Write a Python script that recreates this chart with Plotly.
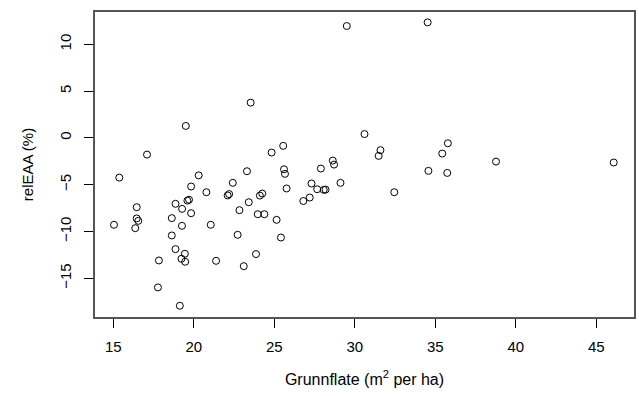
import plotly.graph_objects as go

grunnflate = [15.04, 15.37, 16.36, 16.45, 16.45, 16.55, 17.09, 17.77, 17.83, 18.63,
              18.63, 18.86, 18.86, 19.13, 19.23, 19.26, 19.27, 19.44, 19.46, 19.50,
              19.60, 19.70, 19.83, 19.83, 20.30, 20.78, 21.05, 21.38, 22.10, 22.19,
              22.42, 22.72, 22.83, 23.10, 23.30, 23.41, 23.53, 23.86, 23.97, 24.10,
              24.25, 24.38, 24.83, 25.14, 25.41, 25.55, 25.60, 25.66, 25.76, 26.80,
              27.20, 27.31, 27.66, 27.89, 28.07, 28.18, 28.63, 28.71, 29.11, 29.50,
              30.60, 31.48, 31.59, 32.45, 34.52, 34.57, 35.43, 35.74, 35.78, 38.77,
              46.08]
releaa = [-9.28, -4.24, -9.64, -7.40, -8.60, -8.86, -1.78, -15.97, -13.09, -8.57,
          -10.42, -7.04, -11.88, -17.93, -12.91, -9.39, -7.58, -12.38, -13.23, 1.28,
          -6.70, -6.60, -5.19, -8.04, -4.00, -5.80, -9.28, -13.13, -6.15, -6.00,
          -4.80, -10.35, -7.72, -13.70, -3.56, -6.87, 3.77, -12.41, -8.15, -6.16,
          -5.94, -8.15, -1.56, -8.75, -10.64, -0.85, -3.35, -3.84, -5.40, -6.74,
          -6.37, -4.87, -5.48, -3.27, -5.55, -5.52, -2.42, -2.85, -4.80, 11.95,
          0.41, -1.92, -1.31, -5.80, 12.34, -3.52, -1.67, -3.74, -0.57, -2.53,
          -2.63]

x_ticks = [15, 20, 25, 30, 35, 40, 45]
y_ticks = [-15, -10, -5, 0, 5, 10]

fig = go.Figure(go.Scatter(
    x=grunnflate, y=releaa, mode="markers",
    marker=dict(symbol="circle-open", size=7, color="black", line=dict(width=1, color="black")),
    hoverinfo="skip", showlegend=False,
))

font = dict(family="Liberation Sans, Arial, sans-serif", size=15, color="black")

fig.update_layout(
    width=639, height=396,
    margin=dict(l=95, r=3, t=12, b=79),
    paper_bgcolor="white", plot_bgcolor="white",
    font=font,
    xaxis=dict(
        range=[13.86, 47.34], tickvals=x_ticks, ticks="outside", ticklen=9,
        tickcolor="black", tickwidth=1, showgrid=False, zeroline=False,
        showline=True, linecolor="#555", linewidth=1.5, mirror=True,
        ticklabelstandoff=6,
        title=dict(text="Grunnflate (m<sup>2</sup> per ha)", standoff=20,
                   font=dict(family=font["family"], size=16, color="black")),
    ),
    yaxis=dict(
        range=[-19.13, 13.45], tickvals=y_ticks, ticks="outside", ticklen=9,
        tickcolor="black", tickwidth=1, showgrid=False, zeroline=False,
        showline=True, linecolor="#555", linewidth=1.5, mirror=True,
        tickangle=-90, ticklabelstandoff=7,
        title=dict(text="relEAA (%)", standoff=20, font=font),
    ),
)

fig.write_html("out.html")
